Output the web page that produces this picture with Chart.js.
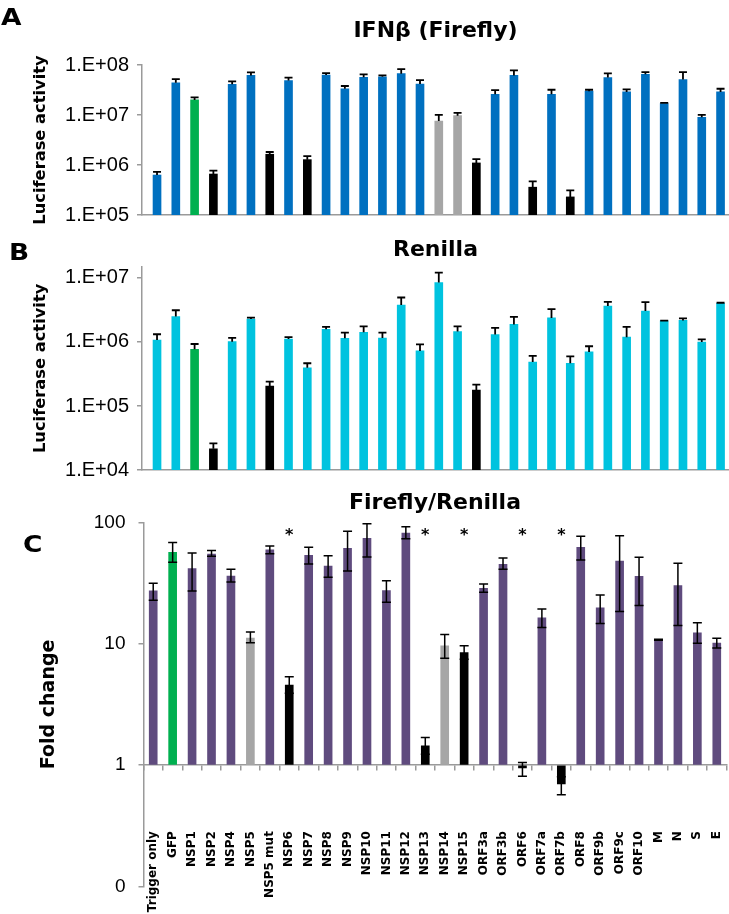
<!DOCTYPE html>
<html>
<head>
<meta charset="utf-8">
<script src="https://cdn.jsdelivr.net/npm/chart.js@4.4.1/dist/chart.umd.min.js"></script>
<style>
  body { margin: 0; width: 729px; height: 914px; overflow: hidden; background: #fff; font-family: "Liberation Sans", Arial, sans-serif; }
  .panel { position: absolute; left: 0; }
  .tag { position: absolute; font-family: "DejaVu Sans", sans-serif; font-weight: bold; font-size: 23px; line-height: 1; transform-origin: left top; transform: scaleX(1.15); }
</style>
</head>
<body>
<div class="panel" style="top:0"><canvas id="chartA" width="729" height="235"></canvas></div>
<div class="panel" style="top:235px"><canvas id="chartB" width="729" height="255"></canvas></div>
<div class="panel" style="top:490px"><canvas id="chartC" width="729" height="424"></canvas></div>
<div class="tag" style="left:1px;top:6px">A</div>
<div class="tag" style="left:9px;top:241px">B</div>
<div class="tag" style="left:23px;top:533px">C</div>

<script>
// ---- データ ----
// A, B: 31本（ラベルなし）  n=通常, g=GFP, k=黒, s=灰色
const fireflyVals = [6.3e5, 4.4e7, 2.0e7, 6.6e5, 4.1e7, 6.2e7, 1.64e6, 4.9e7, 1.28e6, 6.3e7, 3.35e7, 5.7e7, 5.8e7, 6.7e7, 4.15e7,
  7.6e6, 9.7e6, 1.1e6, 2.6e7, 6.2e7, 3.6e5, 2.6e7, 2.3e5, 3.0e7, 5.6e7, 2.9e7, 6.5e7, 1.7e7, 5.1e7, 9.0e6, 2.9e7];
const fireflyHi = [7.3e5, 5.2e7, 2.25e7, 7.7e5, 4.7e7, 7.1e7, 1.82e6, 5.6e7, 1.5e6, 6.9e7, 3.8e7, 6.5e7, 6.2e7, 8.3e7, 5.0e7,
  1.01e7, 1.1e7, 1.31e6, 3.15e7, 7.8e7, 4.7e5, 3.2e7, 3.1e5, 3.2e7, 6.8e7, 3.25e7, 7.2e7, 1.74e7, 7.2e7, 1.01e7, 3.35e7];
const fireflyGroups = ['n','n','g','k','n','n','k','n','k','n','n','n','n','n','n',
  's','s','k','n','n','k','n','k','n','n','n','n','n','n','n','n'];

const renillaVals = [1.07e6, 2.5e6, 7.7e5, 2.15e4, 1.01e6, 2.28e6, 2.04e5, 1.11e6, 3.94e5, 1.58e6, 1.14e6, 1.42e6, 1.15e6, 3.77e6, 7.25e5,
  8.5e6, 1.46e6, 1.77e5, 1.31e6, 1.88e6, 4.87e5, 2.38e6, 4.65e5, 7.0e5, 3.64e6, 1.19e6, 3.05e6, 2.14e6, 2.17e6, 9.97e5, 4.0e6];
const renillaHi = [1.32e6, 3.13e6, 9.3e5, 2.6e4, 1.16e6, 2.41e6, 2.4e5, 1.19e6, 4.65e5, 1.72e6, 1.4e6, 1.75e6, 1.4e6, 4.95e6, 9.2e5,
  1.21e7, 1.75e6, 2.16e5, 1.66e6, 2.47e6, 6.08e5, 3.27e6, 5.95e5, 8.57e5, 4.24e6, 1.72e6, 4.2e6, 2.16e6, 2.33e6, 1.1e6, 4.1e6];
const renillaGroups = ['n','n','g','k','n','n','k','n','n','n','n','n','n','n','n',
  'n','n','k','n','n','n','n','n','n','n','n','n','n','n','n','n'];

// C: Firefly/Renilla
const labelsC = ['Trigger only','GFP','NSP1','NSP2','NSP4','NSP5','NSP5 mut','NSP6','NSP7','NSP8','NSP9','NSP10','NSP11','NSP12',
  'NSP13','NSP14','NSP15','ORF3a','ORF3b','ORF6','ORF7a','ORF7b','ORF8','ORF9b','ORF9c','ORF10','M','N','S','E'];
const ratioVals = [27.2, 56.6, 41.5, 54.8, 36.1, 11.1, 59.2, 4.57, 53.5, 43.6, 61.1, 73.8, 27.4, 81.6,
  1.44, 9.6, 8.45, 28.6, 45.1, 0.95, 16.3, 0.7, 62.2, 19.7, 48, 35.9, 10.8, 30.1, 12.3, 10.1];
const ratioHi = [31.4, 68.3, 55.9, 58.7, 41, 12.5, 63.8, 5.35, 62.2, 53.1, 84.3, 97.4, 33, 92.1,
  1.69, 11.9, 9.64, 31, 50.8, 1.05, 19.3, 0.8, 76.7, 25.2, 77.5, 51.5, 10.9, 45.9, 14.9, 11.1];
const ratioLo = [22.8, 46.8, 27.2, 52.5, 32.2, 10.2, 55.1, 3.9, 45.4, 35.2, 39.7, 51.8, 21.9, 73.3,
  1.23, 7.6, 7.45, 26.5, 41, 0.81, 13.6, 0.57, 49, 14.7, 18.4, 20.6, 10.7, 14.1, 10.1, 9.2];
const ratioGroups = ['n','g','n','n','n','s','n','k','n','n','n','n','n','n',
  'k','s','k','n','n','k','n','k','n','n','n','n','n','n','n','n'];
const sigLabels = ['NSP6','NSP13','NSP15','ORF6','ORF7b'];   // * 印
const sigLevel = 85;

// ---- 色 ----
const colA = { n: '#0070C0', g: '#00B050', k: '#000000', s: '#A6A6A6' };
const colB = { n: '#00C3DF', g: '#00B050', k: '#000000', s: '#A6A6A6' };
const colC = { n: '#5F4B7E', g: '#00B050', k: '#000000', s: '#A6A6A6' };
const axisGrey = '#9A9A9A';
const boldFont = '"DejaVu Sans", sans-serif';

Chart.defaults.font.family = '"Liberation Sans", Arial, sans-serif';
Chart.defaults.color = '#000';

// エラーバー
const errorBarPlugin = {
  id: 'errorBars',
  afterDatasetsDraw(chart, args, opts) {
    const ctx = chart.ctx;
    const yScale = chart.scales.y;
    chart.data.datasets.forEach((ds, di) => {
      if (!ds.errHi) return;
      const meta = chart.getDatasetMeta(di);
      ctx.save();
      ctx.strokeStyle = '#000';
      ctx.lineWidth = opts.width;
      meta.data.forEach((bar, i) => {
        const x = bar.x;
        const top = yScale.getPixelForValue(ds.errHi[i]);
        const bottom = ds.errLo ? yScale.getPixelForValue(ds.errLo[i]) : bar.y;
        const half = opts.cap / 2;
        ctx.beginPath();
        ctx.moveTo(x, bottom); ctx.lineTo(x, top);
        ctx.moveTo(x - half, top); ctx.lineTo(x + half, top);
        if (ds.errLo) { ctx.moveTo(x - half, bottom); ctx.lineTo(x + half, bottom); }
        ctx.stroke();
      });
      ctx.restore();
    });
  }
};

// * 印
const sigPlugin = {
  id: 'sigMarks',
  afterDatasetsDraw(chart, args, opts) {
    if (!opts.labels) return;
    const ctx = chart.ctx;
    const xs = chart.scales.x, ys = chart.scales.y;
    const size = 16;
    ctx.save();
    ctx.font = 'bold ' + size + 'px ' + boldFont;
    ctx.fillStyle = '#000';
    ctx.textAlign = 'center';
    ctx.textBaseline = 'alphabetic';
    opts.labels.forEach(l => {
      const x = xs.getPixelForValue(chart.data.labels.indexOf(l));
      const y = ys.getPixelForValue(opts.level);
      ctx.fillText('*', x, y + size * 0.6);
    });
    ctx.restore();
  }
};

function decadesOnly(scale) {
  scale.ticks = scale.ticks.filter(t => Math.abs(Math.log10(t.value) - Math.round(Math.log10(t.value))) < 1e-9);
}
function sciLabel(v) {
  const e = Math.round(Math.log10(v));
  return '1.E+' + String(e).padStart(2, '0');
}

// A, B 共通
function makeLumChart(id, title, vals, hi, groups, pal, yMin, yMax, pad) {
  return new Chart(document.getElementById(id), {
    type: 'bar',
    data: {
      datasets: [{
        data: vals.map((v, i) => ({ x: i, y: v })),
        backgroundColor: groups.map(g => pal[g]),
        barThickness: 8,
        errHi: hi
      }]
    },
    options: {
      responsive: false,
      animation: false,
      layout: { padding: { left: 0, right: 0, top: 0, bottom: pad.bottom } },
      plugins: {
        legend: { display: false },
        tooltip: { enabled: false },
        title: { display: true, text: title, fullSize: false, color: '#000',
          font: { family: boldFont, size: 22, weight: 'bold', lineHeight: 1 }, padding: { top: pad.titleTop, bottom: pad.titleBottom } },
        errorBars: { width: 1.8, cap: 8 }
      },
      scales: {
        x: {
          type: 'linear', min: -0.8, max: 30.45, offset: false,
          ticks: { display: false },
          grid: { display: false, drawTicks: false },
          border: { color: axisGrey, width: 1.5 }
        },
        y: {
          type: 'logarithmic', min: yMin, max: yMax,
          afterBuildTicks: decadesOnly,
          afterFit: s => { s.width = 142; },
          ticks: { callback: sciLabel, font: { size: 20 }, color: '#000', padding: 8 },
          grid: { drawOnChartArea: false, tickLength: 5, color: axisGrey, lineWidth: 1.5 },
          border: { color: axisGrey, width: 1.5 },
          title: { display: true, text: 'Luciferase activity', color: '#000',
            font: { family: boldFont, size: 16.3, weight: 'bold' }, padding: { top: 31, bottom: 0 } }
        }
      }
    },
    plugins: [errorBarPlugin]
  });
}

makeLumChart('chartA', 'IFNβ (Firefly)', fireflyVals, fireflyHi, fireflyGroups, colA, 1e5, 1e8,
  { bottom: 14.3, titleTop: 20, titleBottom: 23 });
makeLumChart('chartB', 'Renilla', renillaVals, renillaHi, renillaGroups, colB, 1e4, 1.5e7,
  { bottom: 16, titleTop: 4, titleBottom: 5.7 });

// C
new Chart(document.getElementById('chartC'), {
  type: 'bar',
  data: {
    labels: labelsC,
    datasets: [{
      data: ratioVals,
      base: 1,
      backgroundColor: ratioGroups.map(g => colC[g]),
      barThickness: 8,
      errHi: ratioHi,
      errLo: ratioLo
    }]
  },
  options: {
    responsive: false,
    animation: false,
    layout: { padding: { left: 0, right: 2.5, top: 0, bottom: 27.5 } },
    plugins: {
      legend: { display: false },
      tooltip: { enabled: false },
      title: { display: true, text: 'Firefly/Renilla', fullSize: false, color: '#000',
        font: { family: boldFont, size: 22, weight: 'bold', lineHeight: 1 }, padding: { top: 2, bottom: 8.3 } },
      errorBars: { width: 1.5, cap: 9 },
      sigMarks: { labels: sigLabels, level: sigLevel }
    },
    scales: {
      x: {
        type: 'category', position: { y: 1 },
        afterFit: s => { s.paddingLeft = 0; s.paddingRight = 0; },
        ticks: { minRotation: 90, maxRotation: 90, autoSkip: false, font: { family: boldFont, size: 12, weight: 'bold' }, color: '#000', padding: 61 },
        grid: { drawOnChartArea: false, offset: true, tickLength: 5, color: axisGrey, lineWidth: 1.5 },
        border: { color: axisGrey, width: 1.5 }
      },
      y: {
        type: 'logarithmic', min: 0.1, max: 100,
        afterBuildTicks: decadesOnly,
        afterFit: s => { s.width = 143.5; },
        ticks: { callback: v => String(Math.round(v)), font: { size: 19 }, color: '#000', padding: 13 },
        grid: { drawOnChartArea: false, tickLength: 5, color: axisGrey, lineWidth: 1.5 },
        border: { color: axisGrey, width: 1.5 },
        title: { display: true, text: 'Fold change', color: '#000',
          font: { family: boldFont, size: 19, weight: 'bold' }, padding: { top: 38, bottom: 0 } }
      }
    }
  },
  plugins: [errorBarPlugin, sigPlugin]
});
</script>
</body>
</html>
